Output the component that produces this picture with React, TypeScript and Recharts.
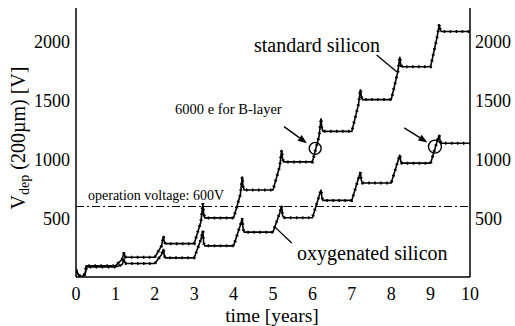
import {
  LineChart,
  Line,
  XAxis,
  YAxis,
  ReferenceLine,
  ReferenceDot,
} from "recharts";

// depletion voltage (200 um) vs. time
const years = [
  0, 0.07, 0.14, 0.2, 0.24, 0.26,
  1.0, 1.17, 1.22, 1.24, 1.27,
  2.0, 2.17, 2.22, 2.24, 2.27,
  3.0, 3.17, 3.22, 3.24, 3.27,
  4.0, 4.17, 4.22, 4.24, 4.27,
  5.0, 5.17, 5.22, 5.24, 5.27,
  6.0, 6.17, 6.22, 6.24, 6.27,
  7.0, 7.17, 7.22, 7.24, 7.27,
  8.0, 8.17, 8.22, 8.24, 8.27,
  9.0, 9.17, 9.22, 9.24, 9.27,
  10,
];

const stdVdep = [
  60, 15, 3, 12, 40, 95,
  95, 150, 210, 175, 168,
  168, 265, 350, 300, 284,
  284, 470, 630, 540, 503,
  503, 700, 856, 770, 740,
  740, 940, 1082, 1010, 980,
  980, 1200, 1351, 1270, 1240,
  1240, 1470, 1597, 1540, 1510,
  1510, 1750, 1874, 1810, 1790,
  1790, 2050, 2152, 2110, 2090,
  2090,
];

const oxyVdep = [
  55, 12, 2, 10, 35, 85,
  85, 105, 149, 125, 115,
  115, 190, 239, 180, 163,
  163, 320, 395, 290, 265,
  265, 440, 500, 410, 382,
  382, 545, 607, 530, 505,
  505, 690, 743, 680, 652,
  652, 840, 893, 825, 800,
  800, 985, 1040, 990, 969,
  969, 1160, 1210, 1160, 1138,
  1138,
];

const xTicks = [0, 1, 2, 3, 4, 5, 6, 7, 8, 9, 10];
const xMinorTicks = [0.5, 1.5, 2.5, 3.5, 4.5, 5.5, 6.5, 7.5, 8.5, 9.5];
const yTicks = [500, 1000, 1500, 2000];
const yMinorTicks = [
  100, 200, 300, 400, 600, 700, 800, 900, 1100, 1200, 1300, 1400,
  1600, 1700, 1800, 1900, 2100, 2200,
];
const opVoltage = 600;

const stdData = years.map((t, i) => ({ t, v: stdVdep[i] }));
const oxyData = years.map((t, i) => ({ t, v: oxyVdep[i] }));

const FONT = "Liberation Serif";
const tickFont = { fontSize: 18, fill: "#000", fontFamily: FONT };
const X_DOM: [number, number] = [0, 10];
const Y_DOM: [number, number] = [0, 2290];
const tl = { stroke: "#000", strokeWidth: 1.2 };
const frame = { stroke: "#000", strokeWidth: 1.5 };

function Arrow(props: any) {
  const { x1, y1, x2, y2 } = props;
  const a = Math.atan2(y2 - y1, x2 - x1);
  const len = 9;
  const w = 3.5;
  const bx = x2 - len * Math.cos(a);
  const by = y2 - len * Math.sin(a);
  const pts = `${x2},${y2} ${bx - w * Math.sin(a)},${by + w * Math.cos(a)} ${bx + w * Math.sin(a)},${by - w * Math.cos(a)}`;
  return (
    <g>
      <line x1={x1} y1={y1} x2={bx} y2={by} stroke="#000" strokeWidth={1.4} />
      <polygon points={pts} fill="#000" />
    </g>
  );
}

export default function App() {
  const series = [stdData, oxyData];
  return (
    <div
      style={{
        position: "absolute",
        left: 0,
        top: 0,
        width: 515,
        height: 326,
        background: "#fff",
        fontFamily: FONT,
      }}
    >
      <LineChart
        width={515}
        height={326}
        margin={{ top: 8, right: 0, bottom: 0, left: 0 }}
      >
        {/* labelled axes */}
        <XAxis
          xAxisId="b"
          type="number"
          dataKey="t"
          domain={X_DOM}
          allowDataOverflow
          ticks={xTicks}
          interval={0}
          height={49}
          tickSize={0}
          tickMargin={10}
          tickLine={false}
          axisLine={frame}
          tick={tickFont}
        />
        <YAxis
          yAxisId="l"
          type="number"
          domain={Y_DOM}
          allowDataOverflow
          ticks={yTicks}
          interval={0}
          width={76}
          tickSize={0}
          tickMargin={6}
          tickLine={false}
          axisLine={frame}
          tick={tickFont}
        />
        <YAxis
          yAxisId="r"
          orientation="right"
          type="number"
          domain={Y_DOM}
          allowDataOverflow
          ticks={yTicks}
          interval={0}
          width={45}
          tickSize={0}
          tickMargin={5}
          tickLine={false}
          axisLine={frame}
          tick={{ ...tickFont, textAnchor: "start" }}
        />

        {/* inward tick marks on all four sides */}
        <XAxis xAxisId="bM" type="number" domain={X_DOM} allowDataOverflow ticks={xTicks} interval={0}
          orientation="bottom" mirror height={0} tick={false} axisLine={false} tickSize={6} tickLine={tl} />
        <XAxis xAxisId="bm" type="number" domain={X_DOM} allowDataOverflow ticks={xMinorTicks} interval={0}
          orientation="bottom" mirror height={0} tick={false} axisLine={false} tickSize={3} tickLine={tl} />
        <XAxis xAxisId="tM" type="number" domain={X_DOM} allowDataOverflow ticks={xTicks} interval={0}
          orientation="top" mirror height={0} tick={false} axisLine={frame} tickSize={6} tickLine={tl} />
        <XAxis xAxisId="tm" type="number" domain={X_DOM} allowDataOverflow ticks={xMinorTicks} interval={0}
          orientation="top" mirror height={0} tick={false} axisLine={false} tickSize={3} tickLine={tl} />
        <YAxis yAxisId="lM" type="number" domain={Y_DOM} allowDataOverflow ticks={yTicks} interval={0}
          orientation="left" mirror width={0} tick={false} axisLine={false} tickSize={6} tickLine={tl} />
        <YAxis yAxisId="lm" type="number" domain={Y_DOM} allowDataOverflow ticks={yMinorTicks} interval={0}
          orientation="left" mirror width={0} tick={false} axisLine={false} tickSize={3} tickLine={tl} />
        <YAxis yAxisId="rM" type="number" domain={Y_DOM} allowDataOverflow ticks={yTicks} interval={0}
          orientation="right" mirror width={0} tick={false} axisLine={false} tickSize={6} tickLine={tl} />
        <YAxis yAxisId="rm" type="number" domain={Y_DOM} allowDataOverflow ticks={yMinorTicks} interval={0}
          orientation="right" mirror width={0} tick={false} axisLine={false} tickSize={3} tickLine={tl} />

        <ReferenceLine
          xAxisId="b"
          yAxisId="l"
          y={opVoltage}
          stroke="#000"
          strokeWidth={1.2}
          strokeDasharray="8 3 2 3"
        />

        {series.map((d, i) => (
          <Line
            key={`s${i}`}
            xAxisId="b"
            yAxisId="l"
            data={d}
            dataKey="v"
            type="linear"
            stroke="#000"
            strokeWidth={1.6}
            dot={false}
            isAnimationActive={false}
          />
        ))}
        {/* beaded overlay imitating the dense measurement markers */}
        {series.map((d, i) => (
          <Line
            key={`b${i}`}
            xAxisId="b"
            yAxisId="l"
            data={d}
            dataKey="v"
            type="linear"
            stroke="#000"
            strokeWidth={3}
            strokeDasharray="1.5 4.5"
            dot={false}
            isAnimationActive={false}
          />
        ))}

        {/* annotations */}
        <ReferenceDot xAxisId="b" yAxisId="l" x={6.07} y={1095} r={6} fill="none" stroke="#000" strokeWidth={1.4} />
        <ReferenceDot xAxisId="b" yAxisId="l" x={9.11} y={1110} r={6.5} fill="none" stroke="#000" strokeWidth={1.4} />
        <ReferenceLine xAxisId="b" yAxisId="l" segment={[{ x: 5.28, y: 1280 }, { x: 5.86, y: 1139 }]} shape={Arrow} />
        <ReferenceLine xAxisId="b" yAxisId="l" segment={[{ x: 8.33, y: 1269 }, { x: 8.92, y: 1146 }]} shape={Arrow} />
        <ReferenceLine xAxisId="b" yAxisId="l" segment={[{ x: 7.63, y: 1889 }, { x: 8.14, y: 1747 }]} stroke="#000" strokeWidth={1.3} />
        <ReferenceLine xAxisId="b" yAxisId="l" segment={[{ x: 5.475, y: 290 }, { x: 5.03, y: 431 }]} stroke="#000" strokeWidth={1.3} />
      </LineChart>

      <svg
        width={515}
        height={326}
        style={{ position: "absolute", left: 0, top: 0, pointerEvents: "none" }}
        fontFamily={FONT}
        fill="#000"
      >
        <text x={254} y={52} fontSize={20}>standard silicon</text>
        <text x={297} y={260} fontSize={20}>oxygenated silicon</text>
        <text x={175} y={114} fontSize={14.5}>6000 e for B-layer</text>
        <text x={88} y={200} fontSize={14}>operation voltage: 600V</text>
        <text x={272} y={322} fontSize={19.5} textAnchor="middle">time [years]</text>
        <text transform="translate(25,138) rotate(-90)" fontSize={20} textAnchor="middle">
          V<tspan fontSize={14} dy={4}>dep</tspan>
          <tspan dy={-4}> (200µm) [V]</tspan>
        </text>
      </svg>
    </div>
  );
}
